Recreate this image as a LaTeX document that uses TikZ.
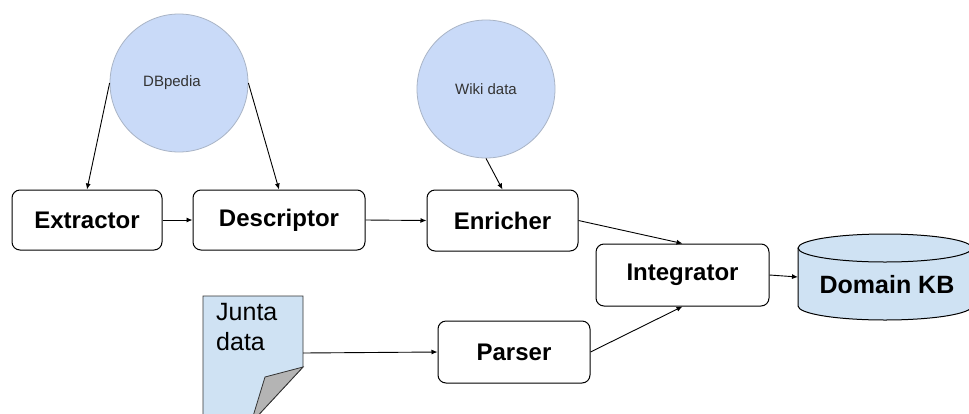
\documentclass[tikz,border=0pt]{standalone}
\usepackage{fontspec}
\setmainfont{Liberation Sans}
\usetikzlibrary{arrows.meta}
\definecolor{circfill}{HTML}{C9DAF8}
\definecolor{cylfill}{HTML}{CFE2F3}
\definecolor{flapfill}{HTML}{B4B4B4}
\definecolor{circline}{HTML}{A9B4C6}
\begin{document}
\begin{tikzpicture}[x=1pt,y=-1pt,
  procbox/.style={draw, rounded corners=8pt, line width=1pt, inner sep=0pt,
    font=\fontsize{24}{28}\selectfont\bfseries},
  srccirc/.style={circle, draw=circline, line width=0.8pt, fill=circfill, inner sep=0pt,
    minimum size=138pt, text=black!80, font=\fontsize{15}{18}\selectfont},
  conn/.style={draw, line width=0.9pt, -{Latex[length=6pt,width=5pt]}}]
\useasboundingbox (0,0) rectangle (969,413);
\clip (0,0) rectangle (969,413);
\fill[white] (0,0) rectangle (969,413);

% source circles
\node[srccirc] (db) at (179,83) {\hspace*{-14pt}DBpedia};
\node[srccirc] (wiki) at (486,89) {Wiki data};

% process boxes
\node[procbox, minimum width=150pt, minimum height=60pt] (ex) at (87,220) {Extractor};
\node[procbox, minimum width=172pt, minimum height=60pt] (desc) at (279,220) {Descriptor};
\node[procbox, minimum width=151pt, minimum height=61pt] (enr) at (502.5,220.5) {Enricher};
\node[procbox, minimum width=173pt, minimum height=62pt] (integ) at (682.5,275) {Integrator};
\node[procbox, minimum width=152pt, minimum height=62pt] (parser) at (514,352) {Parser};

% Domain KB cylinder
\filldraw[fill=cylfill, line width=1pt]
  (798,248) -- (798,306) arc[start angle=180, end angle=360, x radius=87pt, y radius=14pt]
  -- (972,248) arc[start angle=0, end angle=180, x radius=87pt, y radius=14pt] -- cycle;
\draw[line width=1pt] (798,248) arc[start angle=180, end angle=360, x radius=87pt, y radius=14pt];
\node[font=\fontsize{25}{30}\selectfont\bfseries] (kb) at (887,285) {Domain KB};
\coordinate (kbw) at (798,277);

% Junta data document
\filldraw[fill=cylfill, line width=0.8pt, draw=black!80]
  (203,296) -- (303,296) -- (303,367) -- (251,423) -- (203,423) -- cycle;
\filldraw[fill=flapfill, line width=0.8pt, draw=black!80]
  (303,367) -- (265,377) -- (251,423) -- cycle;
\node[align=left, anchor=north west, inner sep=0pt, font=\fontsize{25}{30}\selectfont] (junta) at (216,303) {Junta\\data};
\coordinate (jr) at (303,353);

% connectors
\draw[conn] (db.west) -- (ex.north);
\draw[conn] (db.east) -- (desc.north);
\draw[conn] (wiki.south) -- (enr.north);
\draw[conn] (ex.east) -- (desc.west);
\draw[conn] (desc.east) -- (enr.west);
\draw[conn] (enr.east) -- (integ.north);
\draw[conn] (parser.east) -- (integ.south);
\draw[conn] (integ.east) -- (kbw);
\draw[conn] (jr) -- (parser.west);
\end{tikzpicture}
\end{document}
